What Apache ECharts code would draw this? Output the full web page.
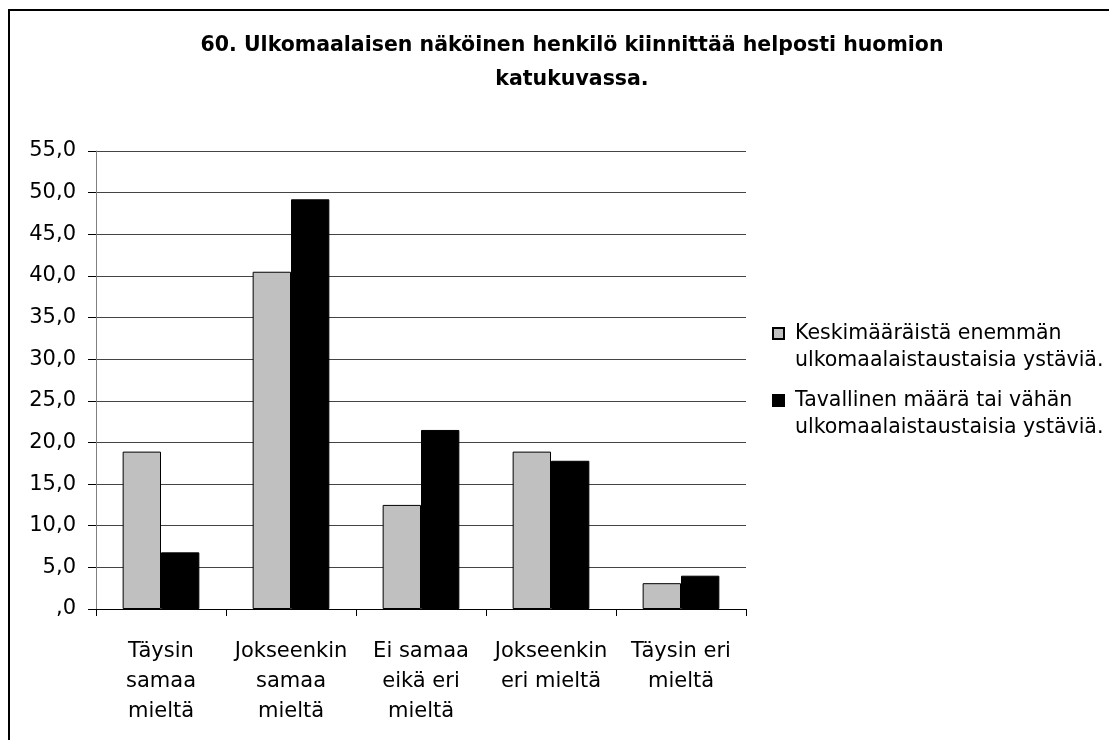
<!DOCTYPE html>
<html>
<head>
<meta charset="utf-8">
<script src="https://cdn.jsdelivr.net/npm/echarts@6/dist/echarts.min.js"></script>
<style>
  html, body { margin: 0; padding: 0; background: #fff; }
  #chart { width: 1109px; height: 740px; }
</style>
</head>
<body>
<div id="chart"></div>
<script>
const categories = [
  'Täysin\nsamaa\nmieltä',
  'Jokseenkin\nsamaa\nmieltä',
  'Ei samaa\neikä eri\nmieltä',
  'Jokseenkin\neri mieltä',
  'Täysin eri\nmieltä'
]
const seriesNames = [
  'Keskimääräistä enemmän\nulkomaalaistaustaisia ystäviä.',
  'Tavallinen määrä tai vähän\nulkomaalaistaustaisia ystäviä.'
]
const moreFriends = [18.9, 40.5, 12.5, 18.9, 3.1]
const usualFriends = [6.8, 49.2, 21.5, 17.8, 4.0]

const font = '"DejaVu Sans", Arial, sans-serif'

// square at the top-left of a taller box so the icon sits on the first text line
const legendIcon = 'path://M0,0L0,0M0,8L11,8L11,19L0,19ZM17,54L17,54'

const chart = echarts.init(document.getElementById('chart'))

chart.setOption({
  animation: false,
  backgroundColor: '#fff',
  textStyle: { fontFamily: font },
  title: {
    text: '60. Ulkomaalaisen näköinen henkilö kiinnittää helposti huomion\nkatukuvassa.',
    left: 567,
    top: 24,
    textAlign: 'center',
    textStyle: { fontSize: 20.5, fontWeight: 'bold', color: '#000', lineHeight: 34, fontFamily: font }
  },
  grid: { left: 96, right: 363, top: 151, bottom: 131 },
  legend: {
    orient: 'vertical',
    left: 767,
    top: 314,
    itemWidth: 17,
    itemHeight: 54,
    itemGap: 11,
    icon: legendIcon,
    data: seriesNames,
    textStyle: { fontSize: 20.5, color: '#000', lineHeight: 27, fontFamily: font }
  },
  xAxis: {
    type: 'category',
    data: categories,
    axisLine: { lineStyle: { color: '#000', width: 1 } },
    axisTick: { show: true, length: 7, lineStyle: { color: '#000' } },
    axisLabel: { color: '#000', fontSize: 21, lineHeight: 30, margin: 28, interval: 0, fontFamily: font }
  },
  yAxis: {
    type: 'value',
    min: 0,
    max: 55,
    interval: 5,
    axisLine: { show: true, lineStyle: { color: '#808080' } },
    axisTick: { show: true, length: 8, lineStyle: { color: '#000' } },
    splitLine: { lineStyle: { color: '#444', width: 1 } },
    axisLabel: {
      color: '#000',
      fontSize: 21,
      margin: 20,
      fontFamily: font,
      formatter: v => (v === 0 ? ',0' : v.toFixed(1).replace('.', ','))
    }
  },
  series: [
    {
      name: seriesNames[0],
      type: 'bar',
      data: moreFriends,
      barGap: '0%',
      barCategoryGap: '41%',
      itemStyle: { color: '#c0c0c0', borderColor: '#000', borderWidth: 1 }
    },
    {
      name: seriesNames[1],
      type: 'bar',
      data: usualFriends,
      itemStyle: { color: '#000', borderColor: '#000', borderWidth: 1 }
    }
  ],
  graphic: [
    {
      type: 'polyline',
      shape: { points: [[9, 760], [9, 10], [1120, 10]] },
      style: { stroke: '#000', lineWidth: 2, fill: null }
    }
  ]
})
</script>
</body>
</html>
